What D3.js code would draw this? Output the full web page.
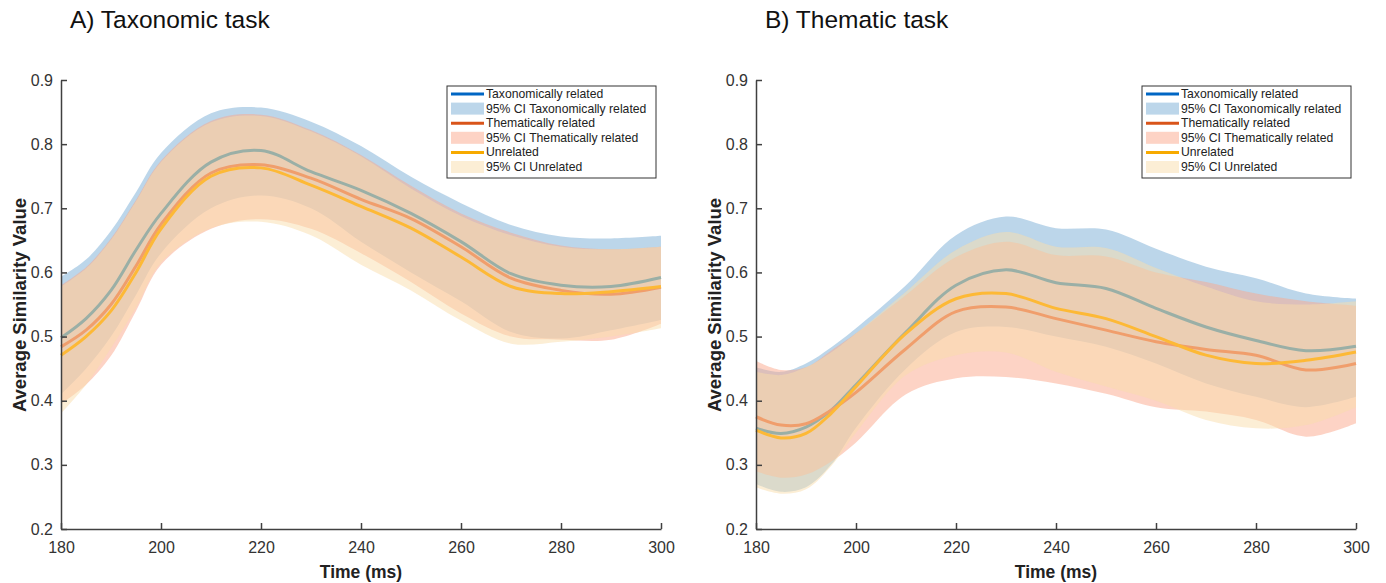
<!DOCTYPE html>
<html>
<head>
<meta charset="UTF-8" />
<title>Similarity</title>
<script src="https://cdn.jsdelivr.net/npm/d3@7"></script>
<style>
  body { margin: 0; background: #fff; }
  text { font-family: "Liberation Sans", Arial, sans-serif; }
</style>
</head>
<body>
<script>
// time points (ms)
var time = [180, 185, 190, 195, 200, 210, 220, 230, 240, 250, 260, 270, 280, 290, 300];
var yTicks = [0.2, 0.3, 0.4, 0.5, 0.6, 0.7, 0.8, 0.9];
var xTicks = [180, 200, 220, 240, 260, 280, 300];

// A) taxonomic task
var taxA      = [0.498, 0.528, 0.572, 0.635, 0.692, 0.772, 0.790, 0.757, 0.728, 0.692, 0.648, 0.598, 0.580, 0.578, 0.592];
var taxA_hi   = [0.593, 0.620, 0.665, 0.725, 0.786, 0.848, 0.857, 0.835, 0.797, 0.749, 0.708, 0.674, 0.656, 0.653, 0.657];
var taxA_lo   = [0.410, 0.450, 0.500, 0.565, 0.630, 0.700, 0.720, 0.700, 0.648, 0.600, 0.555, 0.507, 0.497, 0.510, 0.526];
var themA     = [0.484, 0.510, 0.550, 0.610, 0.675, 0.755, 0.768, 0.747, 0.714, 0.684, 0.640, 0.591, 0.572, 0.566, 0.577];
var themA_hi  = [0.580, 0.608, 0.653, 0.713, 0.774, 0.836, 0.846, 0.822, 0.783, 0.735, 0.692, 0.662, 0.642, 0.636, 0.640];
var themA_lo  = [0.395, 0.425, 0.470, 0.540, 0.612, 0.668, 0.683, 0.668, 0.630, 0.585, 0.536, 0.500, 0.495, 0.495, 0.520];
var unrelA    = [0.471, 0.500, 0.540, 0.600, 0.668, 0.750, 0.763, 0.736, 0.703, 0.669, 0.624, 0.578, 0.567, 0.570, 0.578];
var unrelA_hi = [0.578, 0.606, 0.651, 0.711, 0.772, 0.834, 0.844, 0.820, 0.781, 0.731, 0.688, 0.658, 0.640, 0.636, 0.640];
var unrelA_lo = [0.380, 0.425, 0.482, 0.545, 0.615, 0.669, 0.679, 0.658, 0.612, 0.572, 0.525, 0.489, 0.492, 0.500, 0.513];

// B) thematic task
var taxB      = [0.357, 0.349, 0.359, 0.385, 0.425, 0.507, 0.580, 0.604, 0.584, 0.575, 0.544, 0.515, 0.494, 0.478, 0.485];
var taxB_hi   = [0.452, 0.445, 0.458, 0.483, 0.513, 0.580, 0.658, 0.687, 0.669, 0.667, 0.637, 0.609, 0.591, 0.567, 0.559];
var taxB_lo   = [0.270, 0.258, 0.265, 0.300, 0.358, 0.450, 0.507, 0.515, 0.500, 0.484, 0.458, 0.427, 0.406, 0.390, 0.406];
var themB     = [0.375, 0.362, 0.364, 0.385, 0.413, 0.481, 0.539, 0.546, 0.528, 0.510, 0.492, 0.480, 0.471, 0.448, 0.458];
var themB_hi  = [0.462, 0.448, 0.452, 0.478, 0.505, 0.565, 0.624, 0.648, 0.627, 0.625, 0.600, 0.585, 0.567, 0.555, 0.548];
var themB_lo  = [0.290, 0.280, 0.285, 0.305, 0.335, 0.410, 0.435, 0.437, 0.427, 0.411, 0.390, 0.383, 0.370, 0.344, 0.365];
var unrelB    = [0.354, 0.342, 0.349, 0.380, 0.422, 0.505, 0.559, 0.567, 0.544, 0.528, 0.500, 0.471, 0.458, 0.463, 0.476];
var unrelB_hi = [0.445, 0.440, 0.452, 0.475, 0.505, 0.570, 0.635, 0.663, 0.640, 0.638, 0.607, 0.578, 0.555, 0.550, 0.555];
var unrelB_lo = [0.265, 0.255, 0.262, 0.298, 0.350, 0.440, 0.471, 0.475, 0.445, 0.422, 0.400, 0.370, 0.357, 0.362, 0.390];

var legendLabels = ["Taxonomically related", "95% CI Taxonomically related",
  "Thematically related", "95% CI Thematically related", "Unrelated", "95% CI Unrelated"];

var lineCol  = ["#0066c4", "#d9541a", "#f7aa00"];   // legend line colours
var plotCol  = ["#9aafa6", "#f09e6c", "#fdb936"];   // lines as they show through the bands
var bandCol  = ["#7aaed6", "#fba88c", "#fadeac"];

var W = 1386, H = 583;
var svg = d3.select("body").append("svg").attr("width", W).attr("height", H);

function panel(x0, title, series) {
  var x = d3.scaleLinear().domain([180, 300]).range([x0, x0 + 600]);
  var y = d3.scaleLinear().domain([0.2, 0.9]).range([529, 80]);
  var g = svg.append("g");

  var area = d3.area().curve(d3.curveCatmullRom)
    .x(function (d) { return x(d.t); })
    .y0(function (d) { return y(d.lo); })
    .y1(function (d) { return y(d.hi); });
  var line = d3.line().curve(d3.curveCatmullRom)
    .x(function (d) { return x(d.t); })
    .y(function (d) { return y(d.v); });

  series.forEach(function (s, k) {
    var pts = time.map(function (t, i) { return { t: t, lo: s.lo[i], hi: s.hi[i] }; });
    g.append("path").attr("d", area(pts)).attr("fill", bandCol[k]).attr("fill-opacity", 0.5);
  });
  series.forEach(function (s, k) {
    var pts = time.map(function (t, i) { return { t: t, v: s.v[i] }; });
    g.append("path").attr("d", line(pts)).attr("fill", "none")
      .attr("stroke", plotCol[k]).attr("stroke-width", 3);
  });

  // axes, MATLAB style ticks pointing inward
  var ax = g.append("g").attr("transform", "translate(0,529)")
    .call(d3.axisBottom(x).tickValues(xTicks).tickSize(-6).tickPadding(10).tickSizeOuter(0));
  var ay = g.append("g").attr("transform", "translate(" + x0 + ",0)")
    .call(d3.axisLeft(y).tickValues(yTicks).tickFormat(d3.format(".1f")).tickSize(-6).tickPadding(10).tickSizeOuter(0));
  [ax, ay].forEach(function (a) {
    a.select(".domain").attr("stroke", "#404040").attr("stroke-width", 1.5);
    a.selectAll(".tick line").attr("stroke", "#404040").attr("stroke-width", 1.5);
    a.selectAll(".tick text").attr("fill", "#333").style("font-size", "16px");
  });
  ax.selectAll(".tick text").attr("dy", "0.9em");
  ay.selectAll(".tick text").attr("dx", "2px");

  g.append("text").attr("x", x0 + 300).attr("y", 578).attr("text-anchor", "middle")
    .style("font-size", "17.5px").style("font-weight", "bold").attr("fill", "#222").text("Time (ms)");
  g.append("text").attr("transform", "translate(" + (x0 - 35) + ",305) rotate(-90)")
    .attr("text-anchor", "middle").style("font-size", "18.5px").style("font-weight", "bold")
    .attr("fill", "#222").text("Average Similarity Value");
  g.append("text").attr("x", x0 + 9).attr("y", 28).style("font-size", "24.5px")
    .attr("fill", "#111").text(title);

  // legend
  var lx = x0 + 386, ly = 86;
  var lg = g.append("g");
  lg.append("rect").attr("x", lx).attr("y", ly).attr("width", 209).attr("height", 92)
    .attr("fill", "#fff").attr("stroke", "#333").attr("stroke-width", 1);
  legendLabels.forEach(function (lab, i) {
    var cy = ly + 8 + i * 14.6, k = Math.floor(i / 2);
    if (i % 2 === 0) {
      lg.append("line").attr("x1", lx + 4).attr("x2", lx + 37).attr("y1", cy).attr("y2", cy)
        .attr("stroke", lineCol[k]).attr("stroke-width", 3);
    } else {
      lg.append("rect").attr("x", lx + 4).attr("y", cy - 6).attr("width", 33).attr("height", 12)
        .attr("fill", bandCol[k]).attr("fill-opacity", 0.5);
    }
    lg.append("text").attr("x", lx + 39).attr("y", cy + 4).style("font-size", "12.2px")
      .attr("fill", "#222").text(lab);
  });
}

panel(61, "A) Taxonomic task", [
  { v: taxA, lo: taxA_lo, hi: taxA_hi },
  { v: themA, lo: themA_lo, hi: themA_hi },
  { v: unrelA, lo: unrelA_lo, hi: unrelA_hi }
]);
panel(756, "B) Thematic task", [
  { v: taxB, lo: taxB_lo, hi: taxB_hi },
  { v: themB, lo: themB_lo, hi: themB_hi },
  { v: unrelB, lo: unrelB_lo, hi: unrelB_hi }
]);
</script>
</body>
</html>
